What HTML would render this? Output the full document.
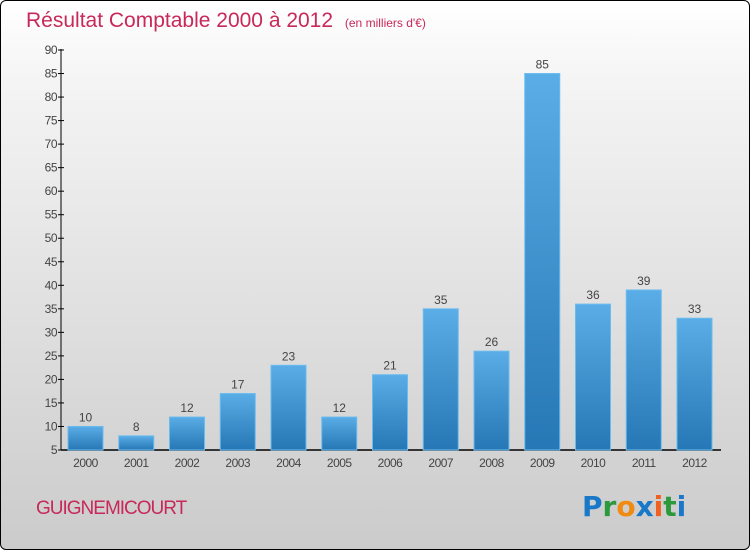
<!DOCTYPE html>
<html><head><meta charset="utf-8"><style>
body{margin:0;width:750px;height:550px;overflow:hidden;font-family:"Liberation Sans",sans-serif}
#wrap{position:absolute;left:0;top:0;width:748px;height:548px;border:1px solid #000;border-radius:6px;background:linear-gradient(#fff,#f4f4f4 15%,#cbcbcb)}
</style></head><body>
<div id="wrap">
<svg width="750" height="550" style="position:absolute;left:-1px;top:-1px">
<defs><linearGradient id="bg" x1="0" y1="0" x2="0" y2="1"><stop offset="0" stop-color="#5aade6"/><stop offset="1" stop-color="#2677b5"/></linearGradient></defs>
<text x="26" y="27" font-size="21" fill="#c8285a">Résultat Comptable 2000 à 2012 <tspan font-size="12" dx="6">(en milliers d'€)</tspan></text>
<g id="axes"></g><g id="bars"></g>
<text x="36" y="514" font-size="19" fill="#c8285a" letter-spacing="-1">GUIGNEMICOURT</text>
<text x="582" y="516" font-size="28" font-weight="bold" font-family="DejaVu Sans"><tspan fill="#1a78c8">P</tspan><tspan fill="#2c9a3c">r</tspan><tspan fill="#f08a10">o</tspan><tspan fill="#1a78c8">x</tspan><tspan fill="#f06020">i</tspan><tspan fill="#2c9a3c">t</tspan><tspan fill="#1a78c8">i</tspan></text>
</svg></div>
<script>
const years=["2000","2001","2002","2003","2004","2005","2006","2007","2008","2009","2010","2011","2012"];
const values=[10,8,12,17,23,12,21,35,26,85,36,39,33];
const yTicks=[5,10,15,20,25,30,35,40,45,50,55,60,65,70,75,80,85,90];
const NS="http://www.w3.org/2000/svg";
const y=v=>450-(v-5)*400/85, x=i=>68+i*50.75;
function mk(t,a,p){const e=document.createElementNS(NS,t);for(const k in a)e.setAttribute(k,a[k]);p.appendChild(e);return e;}
const ax=document.getElementById('axes'),bs=document.getElementById('bars');
let l=mk('line',{x1:61,y1:49,x2:61,y2:450,stroke:'#000'},ax);


l=mk('line',{x1:61,y1:450,x2:721,y2:450,stroke:'#000','stroke-width':1.5},ax);


yTicks.forEach(v=>{mk('line',{x1:58,y1:y(v),x2:64,y2:y(v),stroke:'#000'},ax);
const t=mk('text',{x:57,y:y(v)+4,'font-size':12,'text-anchor':'end',fill:'#444','letter-spacing':'-0.5'},ax);t.textContent=v;

});
years.forEach((yr,i)=>{const r=mk('rect',{x:x(i),y:y(values[i]),width:35,height:450-y(values[i]),fill:'url(#bg)',stroke:'#6bbbef','stroke-width':1},bs);


let t=mk('text',{x:x(i)+17.5,y:y(values[i])-5,'font-size':12,'text-anchor':'middle',fill:'#444'},bs);t.textContent=values[i];


t=mk('text',{x:x(i)+17.5,y:467,'font-size':12,'text-anchor':'middle',fill:'#444','letter-spacing':'-0.5'},bs);t.textContent=yr;

});
</script></body></html>
